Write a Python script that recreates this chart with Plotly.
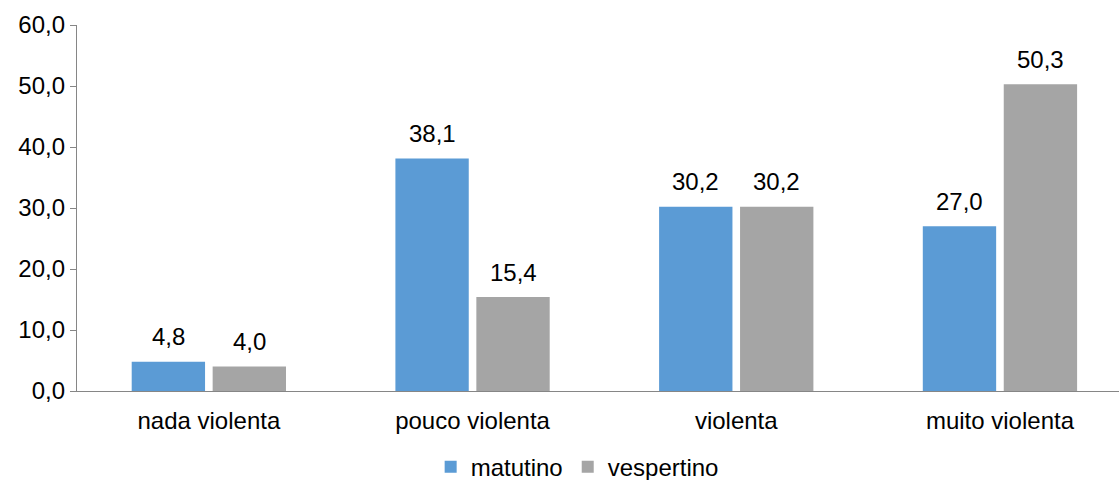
import plotly.graph_objects as go

categories = ["nada violenta", "pouco violenta", "violenta", "muito violenta"]
matutino = [4.8, 38.1, 30.2, 27.0]
vespertino = [4.0, 15.4, 30.2, 50.3]
series_names = ["matutino", "vespertino"]
y_ticks = [0, 10, 20, 30, 40, 50, 60]

colors = ["#5B9BD5", "#A5A5A5"]
FONT = "Liberation Sans, Arial, sans-serif"
FS = 24

fig = go.Figure()
for name, vals, col in zip(series_names, [matutino, vespertino], colors):
    fig.add_trace(go.Bar(x=categories, y=vals, name=name,
                         marker=dict(color=col, line=dict(width=0))))

# data labels
shift = 40.45
for vals, xs in [(matutino, -shift), (vespertino, shift)]:
    for c, v in zip(categories, vals):
        fig.add_annotation(x=c, y=v, text=f"{v:.1f}".replace(".", ","),
                           showarrow=False, xshift=xs, yshift=25,
                           yanchor="middle", xanchor="center",
                           font=dict(family=FONT, size=FS, color="#000000"))

plot_left = 77
cat_w = 263.7
fig.update_layout(
    width=1119, height=480,
    margin=dict(l=plot_left, r=0, t=25, b=89, pad=0, autoexpand=False),
    paper_bgcolor="white", plot_bgcolor="white",
    separators=",.",
    barmode="group", bargap=0.386, bargroupgap=0.094,
    font=dict(family=FONT, size=FS, color="#000000"),
    showlegend=True,
    legend=dict(orientation="h", x=0.480, xanchor="center",
                y=-0.208, yanchor="middle", font=dict(family=FONT, size=FS),
                bgcolor="rgba(0,0,0,0)", itemclick=False),
    xaxis=dict(range=[-0.5, -0.5 + (1119 - plot_left) / cat_w],
               showline=True, linecolor="#868686", linewidth=1.3,
               ticks="", showgrid=False, zeroline=False, tickangle=0,
               automargin=False, ticklabelstandoff=8,
               tickfont=dict(family=FONT, size=FS, color="#000000")),
    yaxis=dict(range=[0, 60], tickvals=y_ticks, tickformat=".1f",
               showline=True, linecolor="#868686", linewidth=1.3,
               ticks="outside", ticklen=6, tickcolor="#868686", tickwidth=1.3,
               showgrid=False, zeroline=False, automargin=False,
               tickfont=dict(family=FONT, size=FS, color="#000000")),
)

fig.write_html("out.html")
